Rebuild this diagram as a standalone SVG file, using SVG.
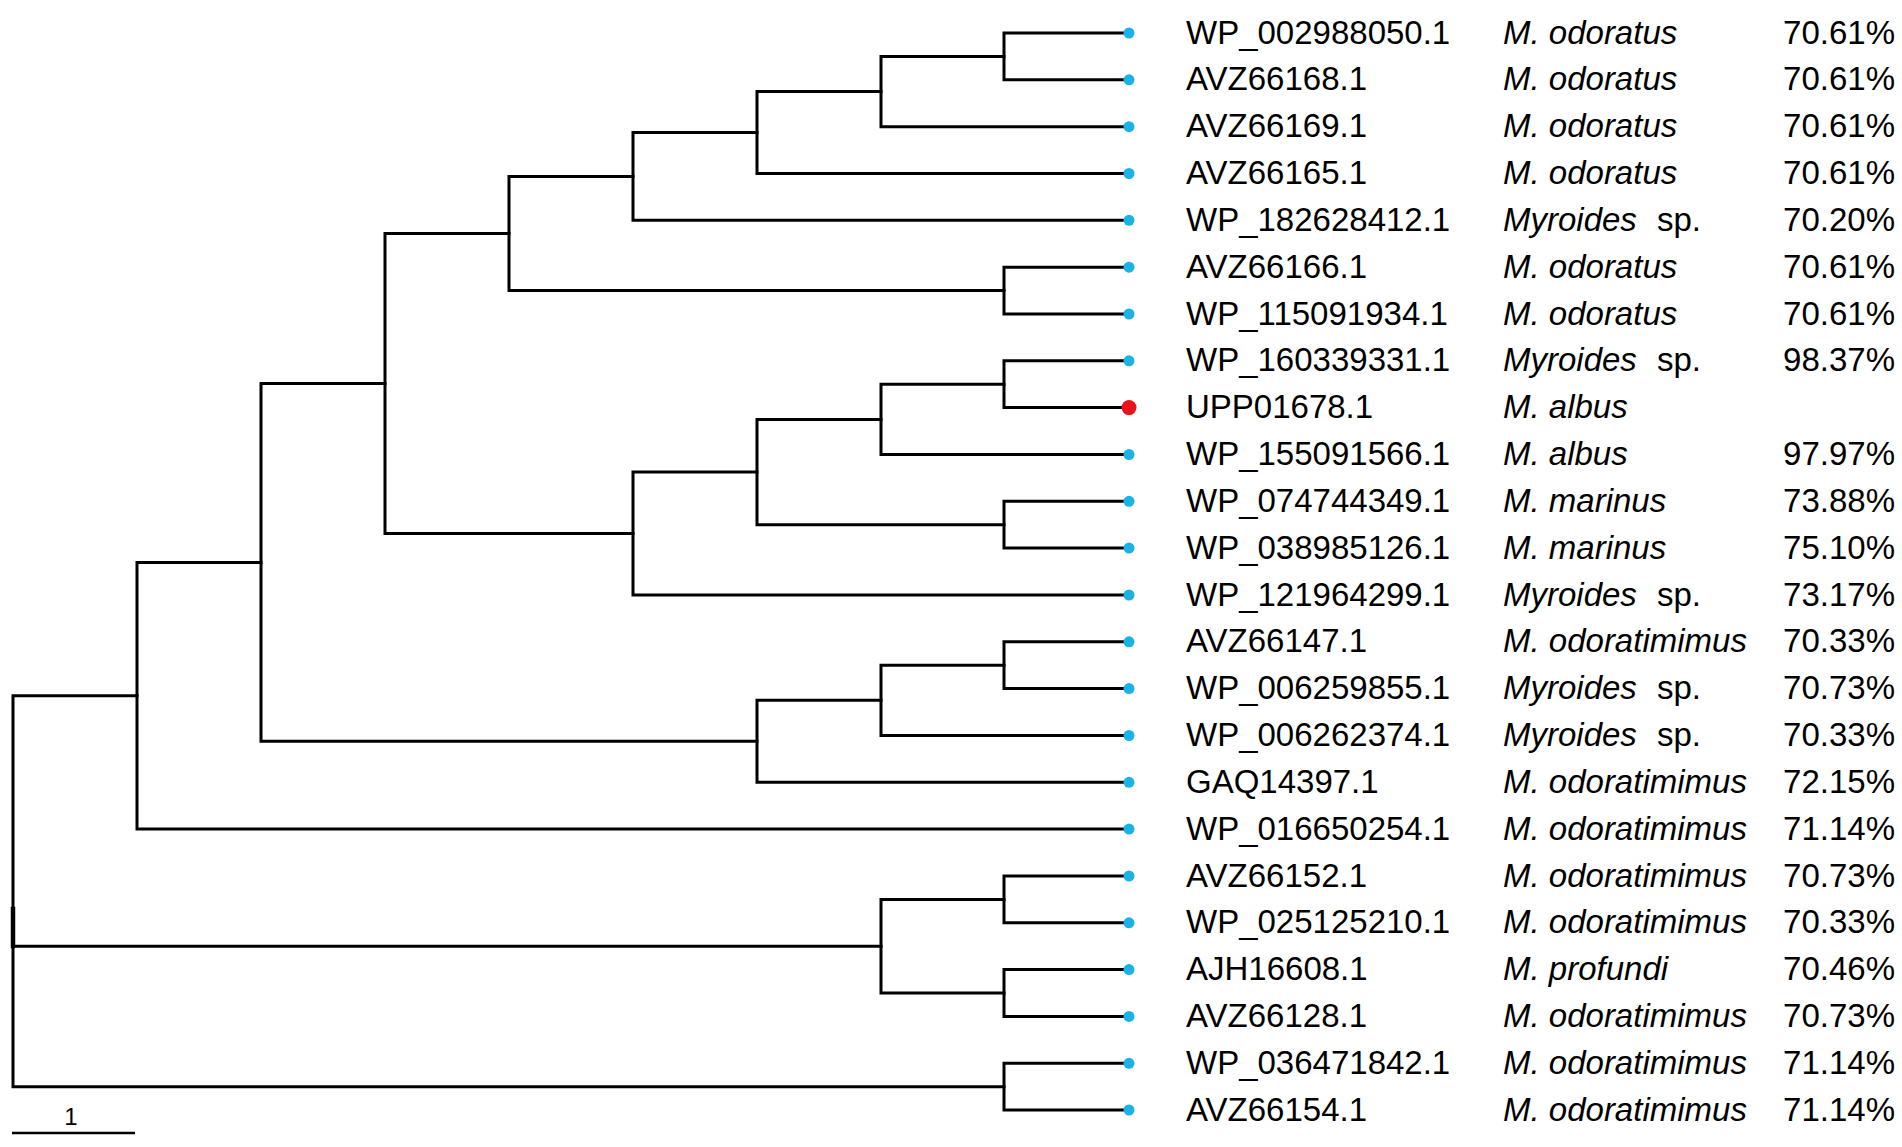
<svg xmlns="http://www.w3.org/2000/svg" width="1902" height="1147" viewBox="0 0 1902 1147">
<style>
.br{fill:none;stroke:#000;stroke-width:3;stroke-linejoin:miter;stroke-linecap:square}
.dot{fill:#1ab3e8}
.red{fill:#e8141b}
text{font-family:"Liberation Sans",Arial,sans-serif;font-size:33px;fill:#000}
.sp{font-style:italic}
.pc{text-anchor:end}
</style>
<rect width="1902" height="1147" fill="#fff"/>
<g id="connectors">
<path class="br" d="M1124 33 H1004 V79.8 H1124"/>
<path class="br" d="M1004 56.4 H881 V126.7 H1124"/>
<path class="br" d="M881 91.6 H757 V173.5 H1124"/>
<path class="br" d="M757 132.5 H633 V220.3 H1124"/>
<path class="br" d="M1124 267.2 H1004 V314 H1124"/>
<path class="br" d="M633 176.4 H509 V290.6 H1004"/>
<path class="br" d="M1124 360.8 H1004 V407.6 H1124"/>
<path class="br" d="M1004 384.2 H881 V454.5 H1124"/>
<path class="br" d="M1124 501.3 H1004 V548.1 H1124"/>
<path class="br" d="M881 419.4 H757 V524.7 H1004"/>
<path class="br" d="M757 472 H633 V595 H1124"/>
<path class="br" d="M509 233.5 H385 V533.5 H633"/>
<path class="br" d="M1124 641.8 H1004 V688.6 H1124"/>
<path class="br" d="M1004 665.2 H881 V735.5 H1124"/>
<path class="br" d="M881 700.3 H757 V782.3 H1124"/>
<path class="br" d="M385 383.5 H261 V741.3 H757"/>
<path class="br" d="M261 562.4 H137 V829.1 H1124"/>
<path class="br" d="M1124 876 H1004 V922.8 H1124"/>
<path class="br" d="M1124 969.6 H1004 V1016.4 H1124"/>
<path class="br" d="M1004 899.4 H881 V993 H1004"/>
<path class="br" d="M1124 1063.3 H1004 V1110 H1124"/>
<path class="br" d="M137 695.8 H13 V1086.7 H1004"/>
<path class="br" d="M13 946.2 H881"/>
<path class="br" style="stroke-width:4.5" d="M13 909 V946"/>
</g>
<g id="scale-bar">
<path class="br" style="stroke-width:2.5;stroke-linecap:butt" d="M12 1133 H135"/>
<text x="71" y="1125" text-anchor="middle" style="font-size:24px">1</text>
</g>
<g id="leaf-WP_002988050.1"><circle class="dot" cx="1129" cy="33" r="5.5"/><text x="1186" y="43.5">WP_002988050.1</text><text class="sp" x="1503" y="43.5">M. odoratus</text><text class="pc" x="1895" y="43.5">70.61%</text></g>
<g id="leaf-AVZ66168.1"><circle class="dot" cx="1129" cy="79.8" r="5.5"/><text x="1186" y="90.3">AVZ66168.1</text><text class="sp" x="1503" y="90.3">M. odoratus</text><text class="pc" x="1895" y="90.3">70.61%</text></g>
<g id="leaf-AVZ66169.1"><circle class="dot" cx="1129" cy="126.7" r="5.5"/><text x="1186" y="137.2">AVZ66169.1</text><text class="sp" x="1503" y="137.2">M. odoratus</text><text class="pc" x="1895" y="137.2">70.61%</text></g>
<g id="leaf-AVZ66165.1"><circle class="dot" cx="1129" cy="173.5" r="5.5"/><text x="1186" y="184">AVZ66165.1</text><text class="sp" x="1503" y="184">M. odoratus</text><text class="pc" x="1895" y="184">70.61%</text></g>
<g id="leaf-WP_182628412.1"><circle class="dot" cx="1129" cy="220.3" r="5.5"/><text x="1186" y="230.8">WP_182628412.1</text><text x="1503" y="230.8"><tspan class="sp">Myroides</tspan><tspan x="1657">sp.</tspan></text><text class="pc" x="1895" y="230.8">70.20%</text></g>
<g id="leaf-AVZ66166.1"><circle class="dot" cx="1129" cy="267.2" r="5.5"/><text x="1186" y="277.7">AVZ66166.1</text><text class="sp" x="1503" y="277.7">M. odoratus</text><text class="pc" x="1895" y="277.7">70.61%</text></g>
<g id="leaf-WP_115091934.1"><circle class="dot" cx="1129" cy="314" r="5.5"/><text x="1186" y="324.5">WP_115091934.1</text><text class="sp" x="1503" y="324.5">M. odoratus</text><text class="pc" x="1895" y="324.5">70.61%</text></g>
<g id="leaf-WP_160339331.1"><circle class="dot" cx="1129" cy="360.8" r="5.5"/><text x="1186" y="371.3">WP_160339331.1</text><text x="1503" y="371.3"><tspan class="sp">Myroides</tspan><tspan x="1657">sp.</tspan></text><text class="pc" x="1895" y="371.3">98.37%</text></g>
<g id="leaf-UPP01678.1"><circle class="red" cx="1129" cy="407.6" r="7.5"/><text x="1186" y="418.1">UPP01678.1</text><text class="sp" x="1503" y="418.1">M. albus</text></g>
<g id="leaf-WP_155091566.1"><circle class="dot" cx="1129" cy="454.5" r="5.5"/><text x="1186" y="465">WP_155091566.1</text><text class="sp" x="1503" y="465">M. albus</text><text class="pc" x="1895" y="465">97.97%</text></g>
<g id="leaf-WP_074744349.1"><circle class="dot" cx="1129" cy="501.3" r="5.5"/><text x="1186" y="511.8">WP_074744349.1</text><text class="sp" x="1503" y="511.8">M. marinus</text><text class="pc" x="1895" y="511.8">73.88%</text></g>
<g id="leaf-WP_038985126.1"><circle class="dot" cx="1129" cy="548.1" r="5.5"/><text x="1186" y="558.6">WP_038985126.1</text><text class="sp" x="1503" y="558.6">M. marinus</text><text class="pc" x="1895" y="558.6">75.10%</text></g>
<g id="leaf-WP_121964299.1"><circle class="dot" cx="1129" cy="595" r="5.5"/><text x="1186" y="605.5">WP_121964299.1</text><text x="1503" y="605.5"><tspan class="sp">Myroides</tspan><tspan x="1657">sp.</tspan></text><text class="pc" x="1895" y="605.5">73.17%</text></g>
<g id="leaf-AVZ66147.1"><circle class="dot" cx="1129" cy="641.8" r="5.5"/><text x="1186" y="652.3">AVZ66147.1</text><text class="sp" x="1503" y="652.3">M. odoratimimus</text><text class="pc" x="1895" y="652.3">70.33%</text></g>
<g id="leaf-WP_006259855.1"><circle class="dot" cx="1129" cy="688.6" r="5.5"/><text x="1186" y="699.1">WP_006259855.1</text><text x="1503" y="699.1"><tspan class="sp">Myroides</tspan><tspan x="1657">sp.</tspan></text><text class="pc" x="1895" y="699.1">70.73%</text></g>
<g id="leaf-WP_006262374.1"><circle class="dot" cx="1129" cy="735.5" r="5.5"/><text x="1186" y="746">WP_006262374.1</text><text x="1503" y="746"><tspan class="sp">Myroides</tspan><tspan x="1657">sp.</tspan></text><text class="pc" x="1895" y="746">70.33%</text></g>
<g id="leaf-GAQ14397.1"><circle class="dot" cx="1129" cy="782.3" r="5.5"/><text x="1186" y="792.8">GAQ14397.1</text><text class="sp" x="1503" y="792.8">M. odoratimimus</text><text class="pc" x="1895" y="792.8">72.15%</text></g>
<g id="leaf-WP_016650254.1"><circle class="dot" cx="1129" cy="829.1" r="5.5"/><text x="1186" y="839.6">WP_016650254.1</text><text class="sp" x="1503" y="839.6">M. odoratimimus</text><text class="pc" x="1895" y="839.6">71.14%</text></g>
<g id="leaf-AVZ66152.1"><circle class="dot" cx="1129" cy="876" r="5.5"/><text x="1186" y="886.5">AVZ66152.1</text><text class="sp" x="1503" y="886.5">M. odoratimimus</text><text class="pc" x="1895" y="886.5">70.73%</text></g>
<g id="leaf-WP_025125210.1"><circle class="dot" cx="1129" cy="922.8" r="5.5"/><text x="1186" y="933.3">WP_025125210.1</text><text class="sp" x="1503" y="933.3">M. odoratimimus</text><text class="pc" x="1895" y="933.3">70.33%</text></g>
<g id="leaf-AJH16608.1"><circle class="dot" cx="1129" cy="969.6" r="5.5"/><text x="1186" y="980.1">AJH16608.1</text><text class="sp" x="1503" y="980.1">M. profundi</text><text class="pc" x="1895" y="980.1">70.46%</text></g>
<g id="leaf-AVZ66128.1"><circle class="dot" cx="1129" cy="1016.4" r="5.5"/><text x="1186" y="1026.9">AVZ66128.1</text><text class="sp" x="1503" y="1026.9">M. odoratimimus</text><text class="pc" x="1895" y="1026.9">70.73%</text></g>
<g id="leaf-WP_036471842.1"><circle class="dot" cx="1129" cy="1063.3" r="5.5"/><text x="1186" y="1073.8">WP_036471842.1</text><text class="sp" x="1503" y="1073.8">M. odoratimimus</text><text class="pc" x="1895" y="1073.8">71.14%</text></g>
<g id="leaf-AVZ66154.1"><circle class="dot" cx="1129" cy="1110" r="5.5"/><text x="1186" y="1120.5">AVZ66154.1</text><text class="sp" x="1503" y="1120.5">M. odoratimimus</text><text class="pc" x="1895" y="1120.5">71.14%</text></g>
</svg>
